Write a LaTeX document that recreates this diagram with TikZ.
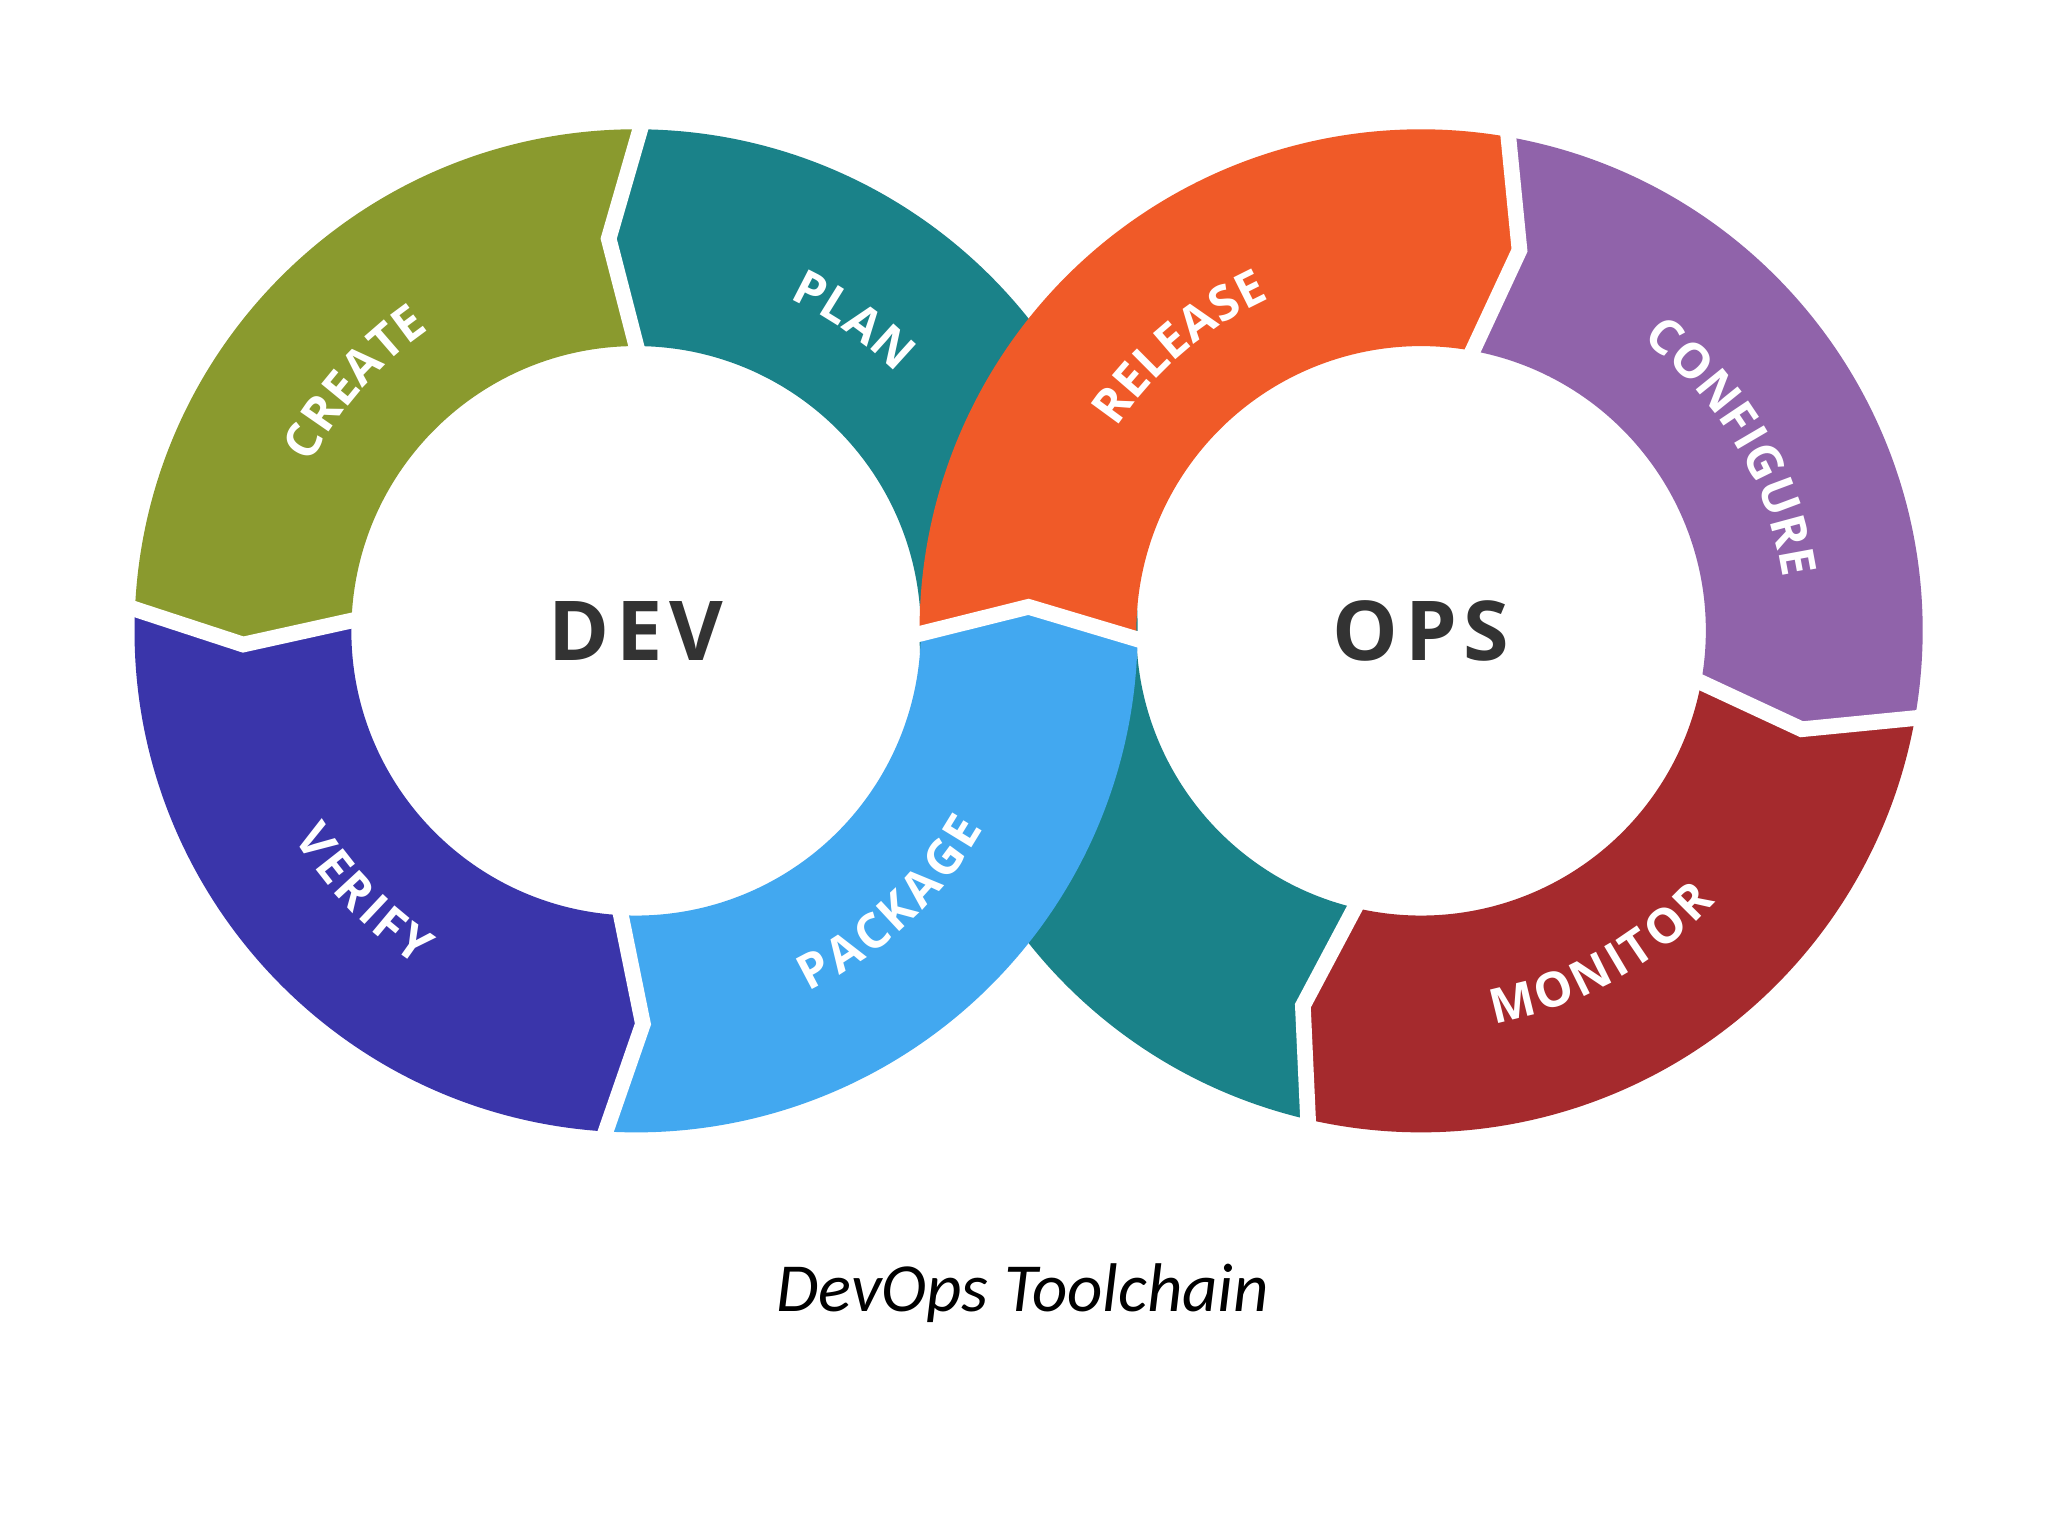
\documentclass[tikz,border=0pt]{standalone}
\usepackage{fontspec}
\setmainfont{Open Sans}
\newfontfamily\capfont{Carlito}
\newfontfamily\spacedfont[LetterSpace=8]{Open Sans}
\usetikzlibrary{calc}
\definecolor{cCreate}{HTML}{8A9A2E}
\definecolor{cPlan}{HTML}{1A8289}
\definecolor{cVerify}{HTML}{3A35AA}
\definecolor{cPackage}{HTML}{42A8F0}
\definecolor{cRelease}{HTML}{F05A28}
\definecolor{cConfig}{HTML}{9063AA}
\definecolor{cMonitor}{HTML}{A52A2D}
\definecolor{cDark}{HTML}{333333}
\newcommand\lblfont{\fontsize{10.5}{12}\selectfont\bfseries}
% advance widths of Open Sans Bold, in em
\def\wdA{0.684}\def\wdC{0.633}\def\wdE{0.539}\def\wdF{0.519}\def\wdG{0.718}
\def\wdI{0.333}\def\wdK{0.635}\def\wdL{0.535}\def\wdM{0.905}\def\wdN{0.771}
\def\wdO{0.787}\def\wdP{0.613}\def\wdR{0.649}\def\wdS{0.556}\def\wdT{0.566}
\def\wdU{0.740}\def\wdV{0.650}\def\wdY{0.622}
\newcommand\seg[5]{%
  \fill[#5] ($(#1)+(#2:3.84)$) arc[start angle=#2,end angle=#3,radius=3.84cm]
    -- ($(#1)+(#3+#4:3.01)$) -- ($(#1)+(#3:2.18)$)
    arc[start angle=#3,end angle=#2,radius=2.18cm]
    -- ($(#1)+(#2+#4:3.01)$) -- cycle;}
\newcommand\gapline[3]{%
  \draw[gapstyle] ($(#1)+(#2:3.97)$) -- ($(#1)+(#2+#3:3.01)$) -- ($(#1)+(#2:2.05)$);}
% #1 centre, #2 mid angle, #3 dir, #4 letters, #5 tracking (cm)
\newcommand\arctext[5]{%
  \gdef\mytot{0}%
  \foreach \myl in {#4} {%
    \pgfmathsetmacro\mytmp{\mytot+\csname wd\myl\endcsname*0.3694+#5}%
    \xdef\mytot{\mytmp}}%
  \gdef\myacc{0}%
  \foreach \myl in {#4} {%
    \pgfmathsetmacro\myw{\csname wd\myl\endcsname*0.3694+#5}%
    \pgfmathsetmacro\myoff{\myacc+\myw/2-\mytot/2}%
    \pgfmathsetmacro\myang{#2+(#3)*\myoff/2.93*57.2958}%
    \pgfmathsetmacro\myrot{\myang+(#3)*90}%
    \node[lbl,rotate=\myrot] at ($(#1)+(\myang:2.93)$) {\myl};
    \pgfmathsetmacro\mytmp{\myacc+\myw}%
    \xdef\myacc{\mytmp}}}
\begin{document}
\begin{tikzpicture}[
  gapstyle/.style={draw=white,line width=0.12cm,line join=miter},
  lbl/.style={text=white,font=\lblfont,inner sep=0pt},
  big/.style={text=cDark,font=\spacedfont\fontsize{18}{21}\selectfont\bfseries}]
\useasboundingbox[fill=white] (0,0) rectangle (15.68,11.76);
\coordinate (dev) at (4.87,6.93);
\coordinate (ops) at (10.88,6.93);
\fill[cPlan] ($(dev)+(0:3.84)$) arc[start angle=0,end angle=89,radius=3.84cm]
  -- ($(dev)+(94:3.01)$) -- ($(dev)+(89:2.18)$)
  arc[start angle=89,end angle=0,radius=2.18cm] -- cycle;
\fill[cPlan] ($(ops)+(-102.5:3.84)$) arc[start angle=-102.5,end angle=-180,radius=3.84cm]
  -- ($(ops)+(-180:2.18)$) arc[start angle=-180,end angle=-102.5,radius=2.18cm]
  -- ($(ops)+(-107.5:3.01)$) -- cycle;
\seg{dev}{89}{177}{5}{cCreate}
\seg{dev}{177}{266}{5}{cVerify}
\seg{dev}{266}{358.5}{5}{cPackage}
\seg{ops}{181}{80.5}{-5}{cRelease}
\seg{ops}{80.5}{-9.5}{-5}{cConfig}
\seg{ops}{-9.5}{-102.5}{-5}{cMonitor}
\gapline{dev}{89}{5}
\gapline{dev}{177}{5}
\gapline{dev}{266}{5}
\gapline{dev}{358.5}{5}
\gapline{ops}{80.5}{-5}
\gapline{ops}{-9.5}{-5}
\gapline{ops}{-102.5}{-5}
\arctext{dev}{138.6}{-1}{C,R,E,A,T,E}{0.02}
\arctext{dev}{55}{-1}{P,L,A,N}{0.02}
\arctext{dev}{224}{1}{V,E,R,I,F,Y}{0.02}
\arctext{dev}{313}{1}{P,A,C,K,A,G,E}{0.02}
\arctext{ops}{130.4}{-1}{R,E,L,E,A,S,E}{0.02}
\arctext{ops}{30.6}{-1}{C,O,N,F,I,G,U,R,E}{0.02}
\arctext{ops}{299}{1}{M,O,N,I,T,O,R}{0.02}
\node[big] (devt) at (dev) {DEV};
\node[big] (opst) at (ops) {OPS};
\node[font=\capfont\itshape\fontsize{15}{18}\selectfont,text=black] (cap) at (7.83,1.86) {DevOps Toolchain};
\end{tikzpicture}
\end{document}
